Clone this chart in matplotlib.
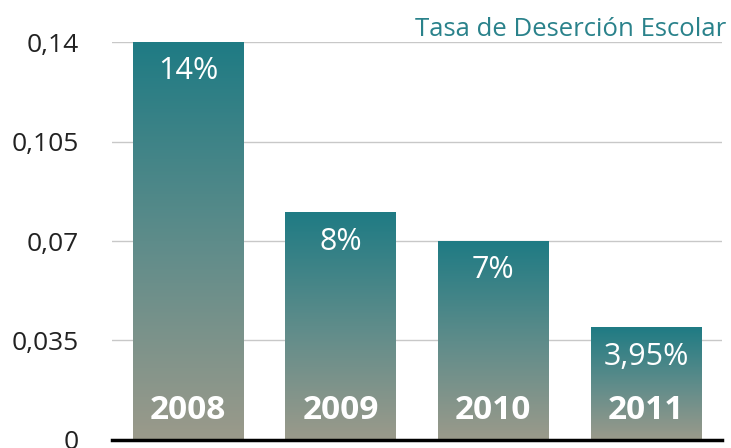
import numpy as np
import matplotlib.pyplot as plt
from matplotlib.colors import LinearSegmentedColormap

years = ["2008", "2009", "2010", "2011"]
rates = [0.14, 0.08, 0.07, 0.0395]
rate_labels = ["14%", "8%", "7%", "3,95%"]
yticks = [0, 0.035, 0.07, 0.105, 0.14]
ytick_labels = ["0", "0,035", "0,07", "0,105", "0,14"]

plt.rcParams['font.family'] = ['Open Sans', 'DejaVu Sans']

teal = "#1f7b84"
cmap = LinearSegmentedColormap.from_list("bar", ["#9b9a8b", "#5e8c8a", teal])

fig = plt.figure(figsize=(7.31, 4.48), dpi=100)
ax = fig.add_axes([0.153, 0.018, 0.835, 0.888])

x = np.arange(len(years))
bars = ax.bar(x, rates, width=0.725, color="none", zorder=3)

grad = np.linspace(0, 1, 256).reshape(-1, 1)
for b in bars:
    bx, bw, bh = b.get_x(), b.get_width(), b.get_height()
    ax.imshow(grad, extent=[bx, bx + bw, 0, bh], origin="lower",
              aspect="auto", cmap=cmap, zorder=3)

for i, b in enumerate(bars):
    cx = b.get_x() + b.get_width() / 2
    ax.annotate(rate_labels[i], (cx, b.get_height()), xytext=(0, -21),
                textcoords="offset points", ha="center", va="center",
                color="white", fontsize=22, zorder=4)
    ax.annotate(years[i], (cx, 0), xytext=(0, 21),
                textcoords="offset points", ha="center", va="center",
                color="white", fontsize=24, fontweight="bold", zorder=4)

ax.set_xlim(-0.5, 3.5)
ax.set_ylim(0, 0.14)
ax.set_yticks(yticks)
ax.set_yticklabels(ytick_labels, fontsize=19, color="#222222")
ax.set_xticks([])
ax.tick_params(axis="y", length=0, pad=24)
ax.grid(axis="y", color="#c8c8c8", linewidth=1, zorder=0)
ax.set_axisbelow(True)
for s in ["top", "right", "left"]:
    ax.spines[s].set_visible(False)
ax.spines["bottom"].set_color("black")
ax.spines["bottom"].set_linewidth(2.5)
ax.spines["bottom"].set_zorder(5)

fig.text(0.993, 0.935, "Tasa de Deserción Escolar", ha="right", va="center",
         color="#2a828b", fontsize=18.5)

fig.savefig("out.png", dpi=100)
